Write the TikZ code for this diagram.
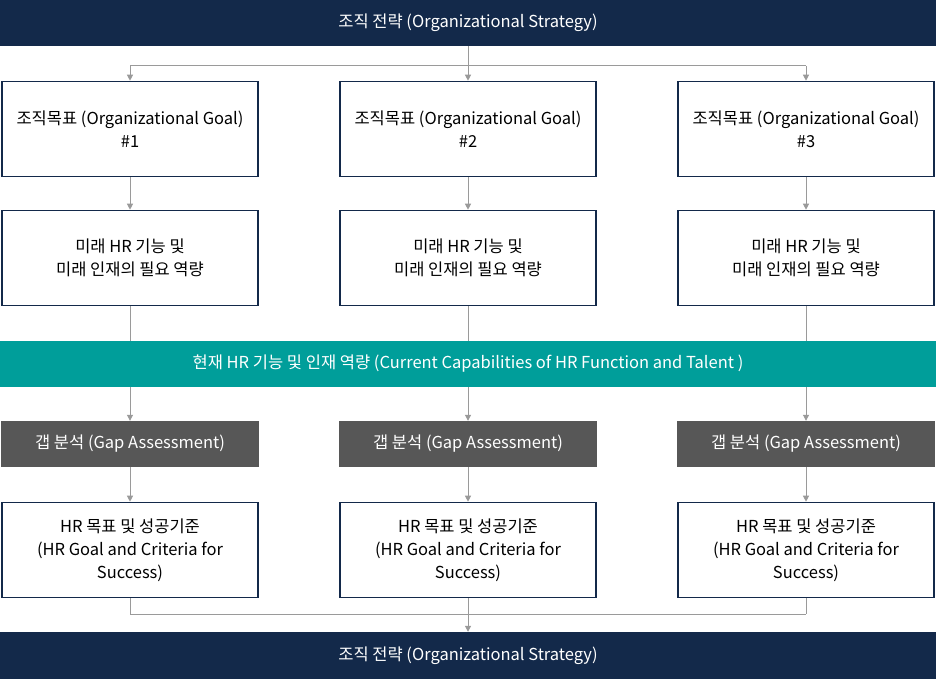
\documentclass[tikz,border=0pt]{standalone}
\usepackage{fontspec}
\setmainfont{Noto Sans CJK KR}
\usetikzlibrary{arrows.meta}
\definecolor{navy}{HTML}{13294A}
\definecolor{teal2}{HTML}{009E9A}
\definecolor{gbox}{HTML}{575757}
\definecolor{ln}{HTML}{9A9A9A}
\tikzset{x=1pt,y=-1pt,
 bar/.style={minimum width=936pt,minimum height=46pt,inner sep=0pt,text=white,font=\fontsize{16.5}{20}\selectfont},
 wbox/.style={draw=navy,line width=1.6pt,minimum width=256pt,minimum height=95pt,align=center,font=\fontsize{16.5}{23}\selectfont,inner sep=2pt},
 gray/.style={fill=gbox,minimum width=258pt,minimum height=46pt,text=white,font=\fontsize{16.5}{20}\selectfont},
 con/.style={draw=ln,line width=1pt},
 arr/.style={con,-{Triangle[length=6pt,width=6pt]}}}
\begin{document}
\begin{tikzpicture}
\fill[white] (0,0) rectangle (936,679);
\node[bar,fill=navy] (top) at (468,23) {조직 전략 (Organizational Strategy)};
\node[bar,fill=teal2] (cur) at (468,364) {현재 HR 기능 및 인재 역량 (Current Capabilities of HR Function and Talent )};
\node[bar,fill=navy,minimum height=47pt] (bot) at (468,655.5) {조직 전략 (Organizational Strategy)};
\foreach \i/\x in {1/130,2/468,3/806}{
 \node[wbox] (g\i) at (\x,129) {조직목표 (Organizational Goal)\\\#\i};
 \node[wbox] (f\i) at (\x,258) {미래 HR 기능 및\\미래 인재의 필요 역량};
 \node[gray] (a\i) at (\x,444) {갭 분석 (Gap Assessment)};
 \node[wbox] (h\i) at (\x,550) {HR 목표 및 성공기준\\(HR Goal and Criteria for\\Success)};
 \coordinate (t\i) at (\x,66);
 \coordinate (b\i) at (\x,614);
 \draw[arr] (t\i) -- (g\i.north);
 \draw[arr] (g\i) -- (f\i);
 \draw[con] (f\i.south) -- (f\i.south |- cur.north);
 \draw[arr] (a\i.north |- cur.south) -- (a\i.north);
 \draw[arr] (a\i) -- (h\i);
 \draw[con] (h\i.south) -- (b\i);
}
\draw[con] (top.south) -- (t2);
\draw[con] (t1) -- (t3);
\draw[con] (b1) -- (b3);
\draw[arr] (b2) -- (bot.north);
\end{tikzpicture}
\end{document}
